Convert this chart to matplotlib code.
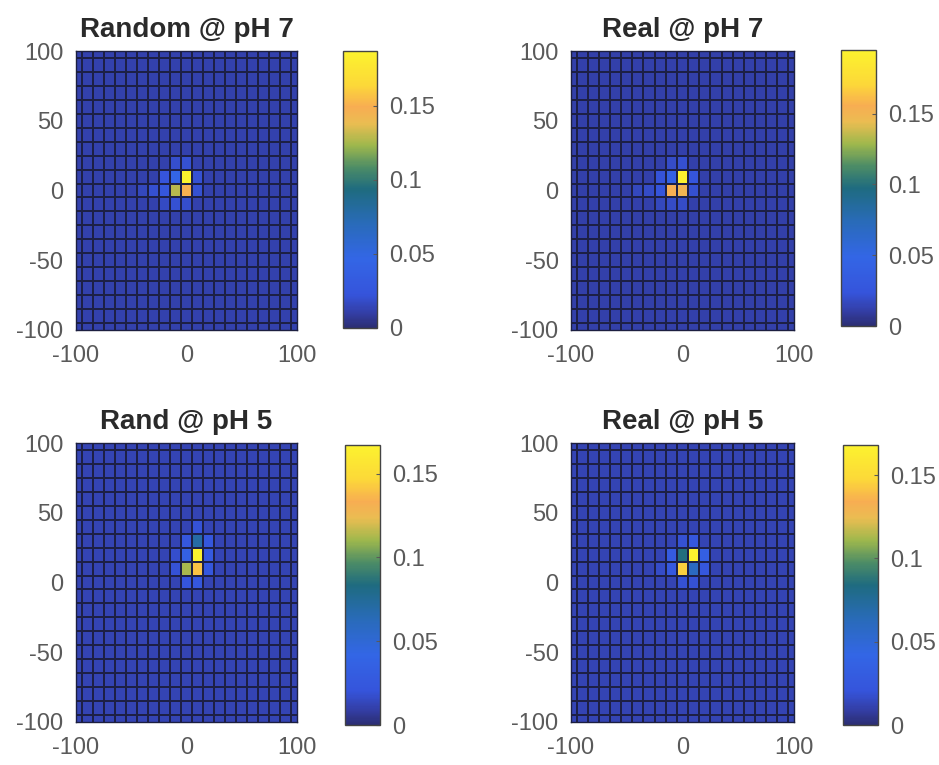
import numpy as np
import matplotlib
matplotlib.use("Agg")
import matplotlib.pyplot as plt
from matplotlib.colors import LinearSegmentedColormap

plt.rcParams['font.family'] = ['Liberation Sans', 'DejaVu Sans']
plt.rcParams['axes.unicode_minus'] = False

# ---- data ----
grid_x = np.arange(-100, 101, 10)
grid_y = np.arange(-100, 101, 10)
background = 0.012

titles = ["Random @ pH 7", "Real @ pH 7", "Rand @ pH 5", "Real @ pH 5"]

p1_x = [0, 0, -10, -10, -20, -20, -30, 10, 10, 0, -10, 0, -10, -20, -40]
p1_y = [10, 0, 0, 10, 0, 10, 0, 10, 0, 20, 20, -10, -10, -10, 0]
p1_v = [0.187, 0.150, 0.128, 0.045, 0.025, 0.023, 0.02, 0.021, 0.021, 0.021, 0.019, 0.019, 0.021, 0.017, 0.016]

p2_x = [0, -10, 0, -10, -20, -20, 10, 10, 0, -10, 0, -10, -30, -40, -20]
p2_y = [10, 0, 0, 10, 0, 10, 10, 0, 20, 20, -10, -10, 0, 0, -10]
p2_v = [0.195, 0.155, 0.150, 0.042, 0.025, 0.023, 0.025, 0.021, 0.021, 0.019, 0.019, 0.019, 0.019, 0.016, 0.016]

p3_x = [10, 10, 0, 10, 0, 20, 20, 20, 0, 0, 10, -10, -10, 10]
p3_y = [20, 10, 10, 30, 20, 20, 10, 30, 30, 0, 0, 10, 20, 40]
p3_v = [0.167, 0.140, 0.112, 0.070, 0.034, 0.027, 0.023, 0.023, 0.023, 0.021, 0.023, 0.019, 0.017, 0.019]

p4_x = [10, 0, 0, 10, 20, -10, -10, 10, 0, 20, 0, 10, -20]
p4_y = [20, 10, 20, 10, 20, 20, 10, 30, 30, 10, 0, 0, 10]
p4_v = [0.168, 0.145, 0.085, 0.060, 0.034, 0.029, 0.025, 0.023, 0.019, 0.023, 0.019, 0.019, 0.016]

panels = [(p1_x, p1_y, p1_v), (p2_x, p2_y, p2_v), (p3_x, p3_y, p3_v), (p4_x, p4_y, p4_v)]

cb_ticks = [0, 0.05, 0.1, 0.15]
cb_labels = ["0", "0.05", "0.1", "0.15"]

# ---- colormap (parula-like, as seen in scan) ----
cmap = LinearSegmentedColormap.from_list("scanparula", [
    (0.00, (0.17, 0.18, 0.45)),
    (0.05, (0.20, 0.24, 0.64)),
    (0.12, (0.21, 0.33, 0.86)),
    (0.25, (0.20, 0.40, 0.90)),
    (0.38, (0.16, 0.42, 0.72)),
    (0.50, (0.12, 0.42, 0.50)),
    (0.58, (0.30, 0.55, 0.40)),
    (0.66, (0.62, 0.72, 0.30)),
    (0.74, (0.92, 0.74, 0.32)),
    (0.80, (0.97, 0.68, 0.32)),
    (0.88, (0.99, 0.85, 0.22)),
    (1.00, (0.99, 0.95, 0.18)),
])

W, H = 939, 765
fig = plt.figure(figsize=(W / 100, H / 100), dpi=100)

def fx(px):
    return px / W

def fy(py):
    return 1 - py / H

# boxes in pixel coords (left, top, right, bottom)
ax_boxes = [(76, 51, 297, 330), (571, 51, 794, 330), (76, 443, 297, 722), (571, 443, 794, 722)]
cb_boxes = [(343, 51, 377, 328), (841, 50, 876, 326), (345, 445, 380, 725), (843, 445, 878, 725)]

tick_color = "#5a5a5a"

for i, (xs, ys, vs) in enumerate(panels):
    Z = np.full((len(grid_y), len(grid_x)), background)
    for x, y, v in zip(xs, ys, vs):
        iy = list(grid_y).index(y)
        ix = list(grid_x).index(x)
        Z[iy, ix] = v
    l, t, r, b = ax_boxes[i]
    ax = fig.add_axes([fx(l), fy(b), fx(r) - fx(l), fy(t) - fy(b)])
    mesh = ax.pcolormesh(grid_x, grid_y, Z, shading='nearest', cmap=cmap,
                         vmin=0, vmax=max(vs), edgecolors='#1d2046', linewidth=1.1)
    ax.set_xlim(-100, 100)
    ax.set_ylim(-100, 100)
    ax.set_xticks([-100, 0, 100])
    ax.set_yticks([-100, -50, 0, 50, 100])
    ax.tick_params(axis='x', length=0, labelsize=17, colors=tick_color, pad=11)
    ax.tick_params(axis='y', length=0, labelsize=17, colors=tick_color, pad=9)
    for s in ax.spines.values():
        s.set_color('#1c1f40')
        s.set_linewidth(1.0)
    ax.set_title(titles[i], fontsize=20, fontweight='bold', color='#2a2a2a', pad=10)

    l, t, r, b = cb_boxes[i]
    cax = fig.add_axes([fx(l), fy(b), fx(r) - fx(l), fy(t) - fy(b)])
    cb = fig.colorbar(mesh, cax=cax, ticks=cb_ticks)
    cb.ax.set_yticklabels(cb_labels)
    cb.ax.tick_params(labelsize=17, colors=tick_color, length=3, direction='in', pad=9)
    cb.outline.set_edgecolor('#444444')
    cb.outline.set_linewidth(1.0)

fig.savefig("out.png", dpi=100)
